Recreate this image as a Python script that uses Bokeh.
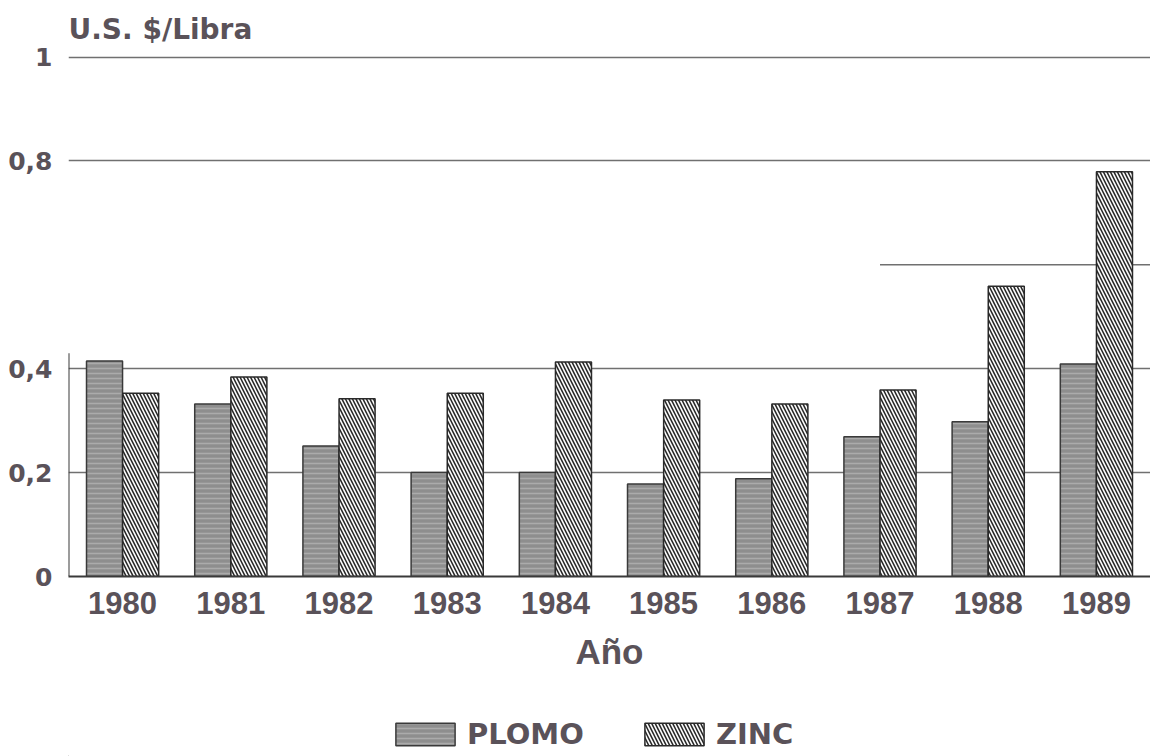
from bokeh.plotting import figure
from bokeh.layouts import column
from bokeh.models import FactorRange, FixedTicker, Legend, LegendItem, ColumnDataSource
from bokeh.transform import dodge
from bokeh.embed import file_html
from bokeh.resources import INLINE

years = ["1980", "1981", "1982", "1983", "1984", "1985", "1986", "1987", "1988", "1989"]
plomo = [0.415, 0.332, 0.251, 0.200, 0.200, 0.178, 0.188, 0.269, 0.298, 0.409]
zinc = [0.353, 0.384, 0.342, 0.353, 0.413, 0.340, 0.332, 0.359, 0.559, 0.779]
y_ticks = [0, 0.2, 0.4, 0.8, 1]
y_tick_labels = ["0", "0,2", "0,4", "0,8", "1"]
series_names = ["PLOMO", "ZINC"]

TXT = "#5a5259"
FONT = "Liberation Sans"
FONT2 = "DejaVu Sans"
GRID = "#707070"
PLOMO_STYLE = dict(fill_color="#8e8e8e", line_color="#3a3a3a", line_width=1.5,
                   hatch_pattern="horizontal_line", hatch_color="#ababab", hatch_scale=5, hatch_weight=1.5)
ZINC_STYLE = dict(fill_color="white", line_color="#2a2a2a", line_width=1.5,
                  hatch_pattern="\\", hatch_color="#2a2a2a", hatch_scale=7, hatch_weight=1.6)

src = ColumnDataSource(dict(year=years, plomo=plomo, zinc=zinc))

p = figure(width=1150, frame_width=1082, frame_height=521,
           x_range=FactorRange(*years, range_padding=0),
           y_range=(0, 1.003), output_backend="svg", toolbar_location=None,
           min_border_left=68, min_border_right=0, min_border_top=55, min_border_bottom=113)
p.outline_line_color = None

p.title.text = "U.S. $/Libra"
p.title.text_font = FONT2
p.title.text_font_size = "28px"
p.title.text_font_style = "bold"
p.title.text_color = TXT
p.title.align = "left"
p.title.standoff = 19

p.vbar(x=dodge("year", -0.167, range=p.x_range), top="plomo", width=0.333, source=src, **PLOMO_STYLE)
p.vbar(x=dodge("year", 0.167, range=p.x_range), top="zinc", width=0.333, source=src, **ZINC_STYLE)

# partial gridline at 0.6 (right part) and partial left axis line
seg = ColumnDataSource(dict(x0=["1987"], x1=["1989"], y=[0.6]))
p.segment(x0=dodge("x0", 0.0, range=p.x_range), x1=dodge("x1", 0.5, range=p.x_range),
          y0="y", y1="y", source=seg, line_color=GRID, line_width=1.5, level="underlay")
ax_seg = ColumnDataSource(dict(x=["1980"], y0=[0], y1=[0.43]))
p.segment(x0=dodge("x", -0.5, range=p.x_range), x1=dodge("x", -0.5, range=p.x_range),
          y0="y0", y1="y1", source=ax_seg, line_color="#3a3a3a", line_width=2)

p.yaxis.ticker = FixedTicker(ticks=y_ticks)
p.yaxis.major_label_overrides = {t: l for t, l in zip(y_ticks, y_tick_labels)}
p.ygrid.ticker = FixedTicker(ticks=y_ticks[1:])
p.ygrid.grid_line_color = GRID
p.ygrid.grid_line_width = 1.5
p.xgrid.grid_line_color = None

for ax in (p.xaxis[0], p.yaxis[0]):
    ax.major_tick_line_color = None
    ax.minor_tick_line_color = None
    ax.major_label_text_font_style = "bold"
    ax.major_label_text_color = TXT

p.yaxis.axis_line_color = None
p.yaxis.major_label_text_font = FONT2
p.yaxis.major_label_text_font_size = "25px"
p.yaxis.major_label_standoff = 10

p.xaxis.axis_line_color = "#3a3a3a"
p.xaxis.axis_line_width = 2
p.xaxis.major_label_text_font = FONT
p.xaxis.major_label_text_font_size = "31px"
p.xaxis.major_label_standoff = 9
p.xaxis.axis_label = "Año"
p.xaxis.axis_label_text_font = FONT
p.xaxis.axis_label_text_font_size = "35px"
p.xaxis.axis_label_text_font_style = "bold"
p.xaxis.axis_label_text_color = TXT
p.xaxis.axis_label_standoff = 15

# legend strip below the chart (its renderers sit outside the visible range)
lg = figure(width=1150, height=67, output_backend="svg", toolbar_location=None,
            x_range=(0, 1), y_range=(0, 1), x_axis_location=None, y_axis_location=None,
            min_border_left=0, min_border_right=0, min_border_top=0, min_border_bottom=0)
lg.grid.grid_line_color = None
lg.outline_line_color = None
lr_p = lg.vbar(x=[-5], top=[-5], width=0.1, **PLOMO_STYLE)
lr_z = lg.vbar(x=[-5], top=[-5], width=0.1, **ZINC_STYLE)
legend = Legend(items=[LegendItem(label=series_names[0], renderers=[lr_p]),
                       LegendItem(label=series_names[1], renderers=[lr_z])],
                orientation="horizontal", location=(320, 5),
                glyph_width=74, glyph_height=28, label_standoff=5, spacing=53,
                label_text_font=FONT2, label_text_font_size="29px", label_text_font_style="bold",
                label_text_color=TXT, border_line_color=None, background_fill_alpha=0,
                margin=0, padding=0)
lg.add_layout(legend, "center")

layout = column(p, lg, spacing=0)
open("out.html", "w").write(file_html(layout, INLINE))
